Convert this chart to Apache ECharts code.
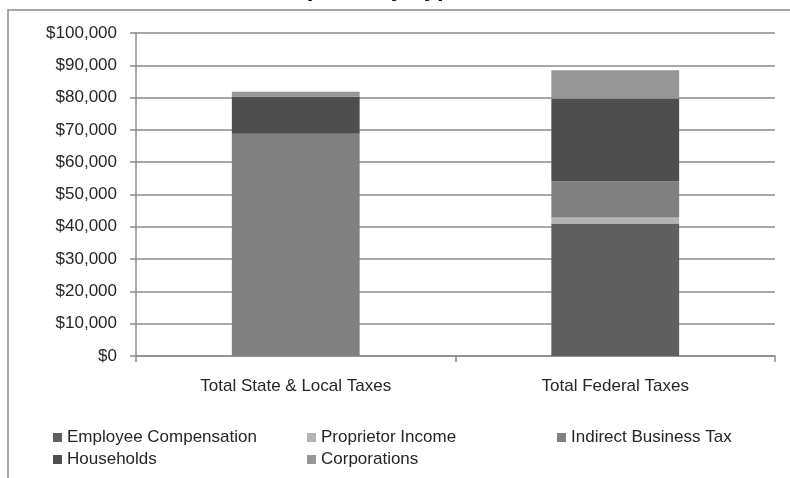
<!DOCTYPE html>
<html>
<head>
<meta charset="utf-8">
<script src="https://cdn.jsdelivr.net/npm/echarts@6/dist/echarts.min.js"></script>
<style>
  html, body { margin: 0; padding: 0; background: #fff; }
  #chart { width: 790px; height: 478px; }
</style>
</head>
<body>
<div id="chart"></div>
<script>
const categories = ['Total State & Local Taxes', 'Total Federal Taxes']
const employeeCompensation = [0, 41000]
const proprietorIncome = [0, 1900]
const indirectBusinessTax = [68800, 11200]
const households = [11450, 25600]
const corporations = [1550, 8750]
const yTicks = [0, 10000, 20000, 30000, 40000, 50000, 60000, 70000, 80000, 90000, 100000]

const FONT = "'Liberation Sans', Arial, sans-serif"
const TEXT = '#262626'

function money(value) {
  return '$' + Number(value).toLocaleString('en-US')
}

function barSeries(name, data, color) {
  return {
    name,
    type: 'bar',
    stack: 'tax',
    barWidth: '40%',
    itemStyle: { color },
    emphasis: { disabled: true },
    data,
  }
}

function legendColumn(left, names) {
  return {
    orient: 'vertical',
    left,
    top: 424,
    itemWidth: 9,
    itemHeight: 9,
    itemGap: 5,
    icon: 'rect',
    selectedMode: false,
    textStyle: { color: TEXT, fontSize: 17, fontFamily: FONT },
    data: names,
  }
}

const chart = echarts.init(document.getElementById('chart'))

chart.setOption({
  animation: false,
  textStyle: { fontFamily: FONT },
  graphic: [
    {
      type: 'rect',
      shape: { x: 8, y: 10, width: 800, height: 500 },
      style: { fill: 'none', stroke: '#8c8c8c', lineWidth: 1.5 },
      silent: true,
    },
    {
      type: 'text',
      x: 465,
      y: 1,
      style: {
        text: 'Tax Impacts by Type',
        font: "bold 24px 'Liberation Sans', Arial, sans-serif",
        fill: '#000',
        align: 'right',
        verticalAlign: 'bottom',
      },
      silent: true,
    },
  ],
  legend: [
    legendColumn(48, ['Employee Compensation', 'Households']),
    legendColumn(302, ['Proprietor Income', 'Corporations']),
    legendColumn(552, ['Indirect Business Tax']),
  ],
  grid: { left: 136, right: 15, top: 33, bottom: 122, containLabel: false },
  xAxis: {
    type: 'category',
    data: categories,
    axisLine: { lineStyle: { color: '#8c8c8c', width: 1.5 } },
    axisTick: { show: true, length: 6, lineStyle: { color: '#8c8c8c', width: 1.5 } },
    axisLabel: { color: TEXT, fontSize: 17, margin: 22, fontFamily: FONT },
  },
  yAxis: {
    type: 'value',
    min: 0,
    max: 100000,
    interval: 10000,
    axisLine: { show: true, lineStyle: { color: '#8c8c8c', width: 1.5 } },
    axisTick: { show: true, length: 6, lineStyle: { color: '#8c8c8c', width: 1.5 } },
    axisLabel: {
      color: TEXT,
      fontSize: 17,
      margin: 19,
      fontFamily: FONT,
      formatter: v => (yTicks.includes(v) ? money(v) : ''),
    },
    splitLine: { lineStyle: { color: '#a8a8a8', width: 2 } },
  },
  series: [
    barSeries('Employee Compensation', employeeCompensation, '#5f5f5f'),
    barSeries('Proprietor Income', proprietorIncome, '#b3b3b3'),
    barSeries('Indirect Business Tax', indirectBusinessTax, '#808080'),
    barSeries('Households', households, '#4e4e4e'),
    barSeries('Corporations', corporations, '#969696'),
  ],
})
</script>
</body>
</html>
